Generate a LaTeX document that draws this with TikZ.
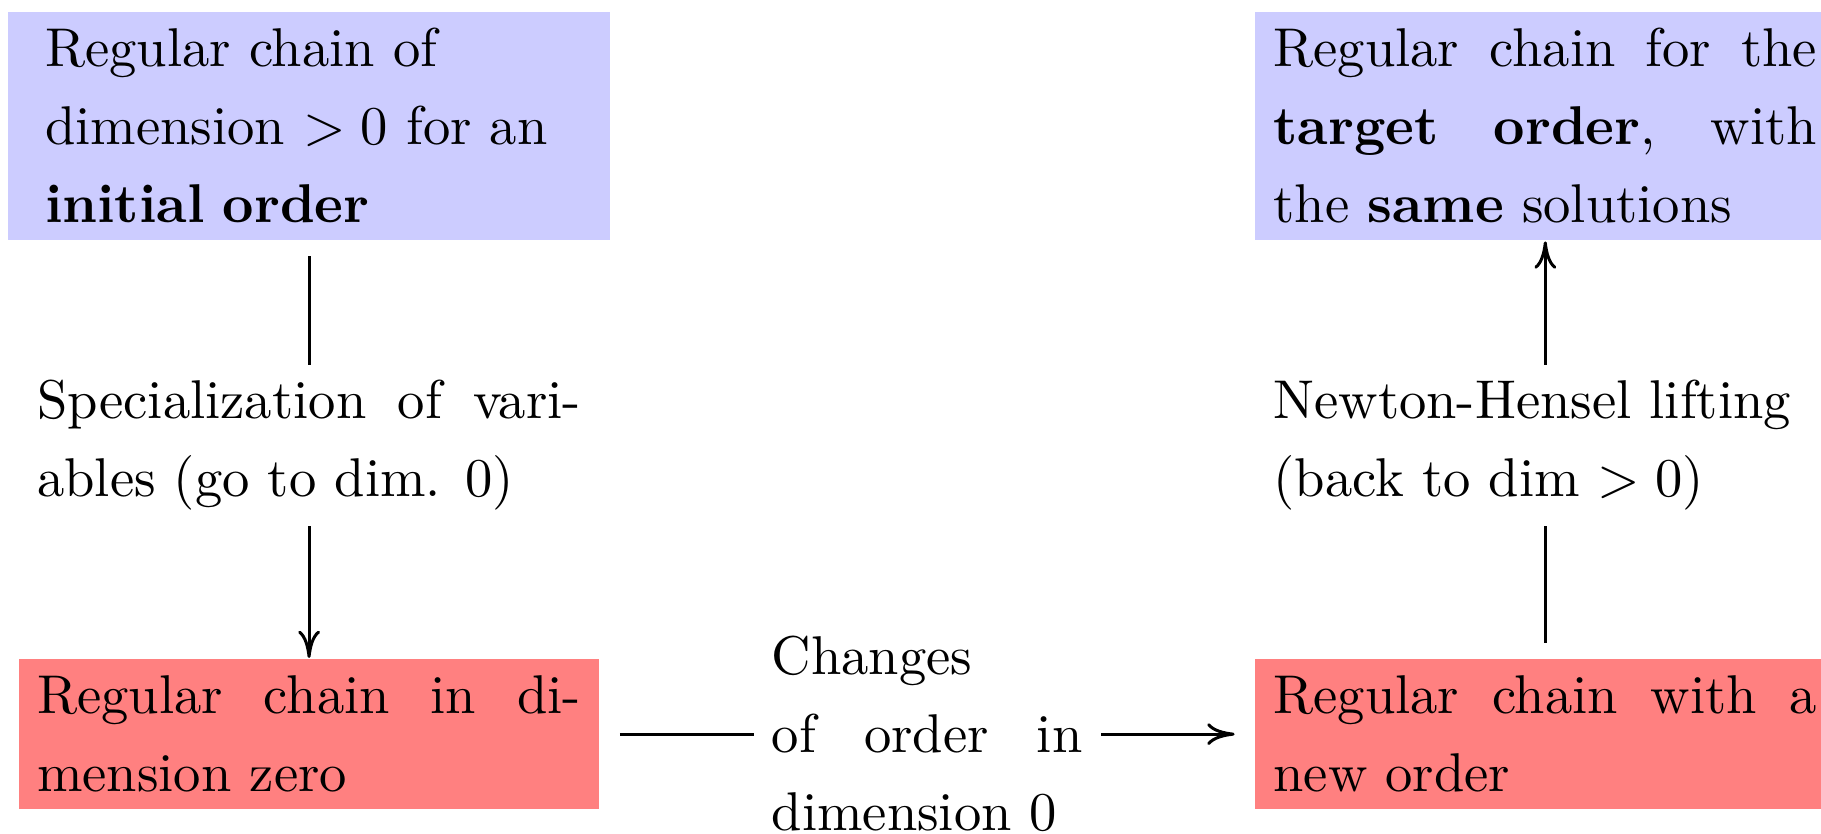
\documentclass[tikz,border=0pt]{standalone}
\usetikzlibrary{arrows.meta}

\begin{document}
\begin{tikzpicture}[x=1pt, y=1pt, line width=0.55pt, >={To[length=5pt, width=4pt]},
    box/.style={anchor=north, text width=3.5cm, inner ysep=3pt, align=justify, font=\fontsize{10}{14.3}\selectfont},
    lbl/.style={fill=white, text width=3.5cm, inner ysep=2.8pt, align=justify, font=\fontsize{10}{14.3}\selectfont}]
    \def\lx{56.6} % left column
    \def\rx{283}  % right column

    % visible part of the slide
    \path[use as bounding box, clip] (0,0) rectangle (333.5,-152.6);

    % Chains
    \node[box, fill=blue!20, text width=96.7pt, inner xsep=6.7pt, align=left] (init) at (\lx,-1.9)
        {Regular chain of\\ dimension $>0$ for an\\ \textbf{initial order}};
    \node[box, fill=red!50] (zero) at (\lx,-120.5) {Regular chain in dimension zero};
    \node[box, fill=red!50] (neworder) at (\rx,-120.5) {Regular chain with a new order};
    \node[box, fill=blue!20] (target) at (\rx,-1.9)
        {Regular chain for the \textbf{target order}, with the \textbf{same} solutions};

    % Steps
    \draw[->, shorten <=2.8pt] (init) -- node[lbl, pos=0.49] (spec)
        {Specialization of variables (go to dim. 0)} (zero);
    \draw[->, shorten <=3.5pt, shorten >=3.5pt] (zero) -- node[lbl, text width=2cm] (change)
        {Changes\\ of order in dimension 0} (neworder);
    \draw[->, shorten <=2.8pt] (neworder) -- node[lbl, pos=0.51] (lift)
        {Newton-Hensel lifting\\ (back to dim $>0$)} (target);
\end{tikzpicture}
\end{document}
